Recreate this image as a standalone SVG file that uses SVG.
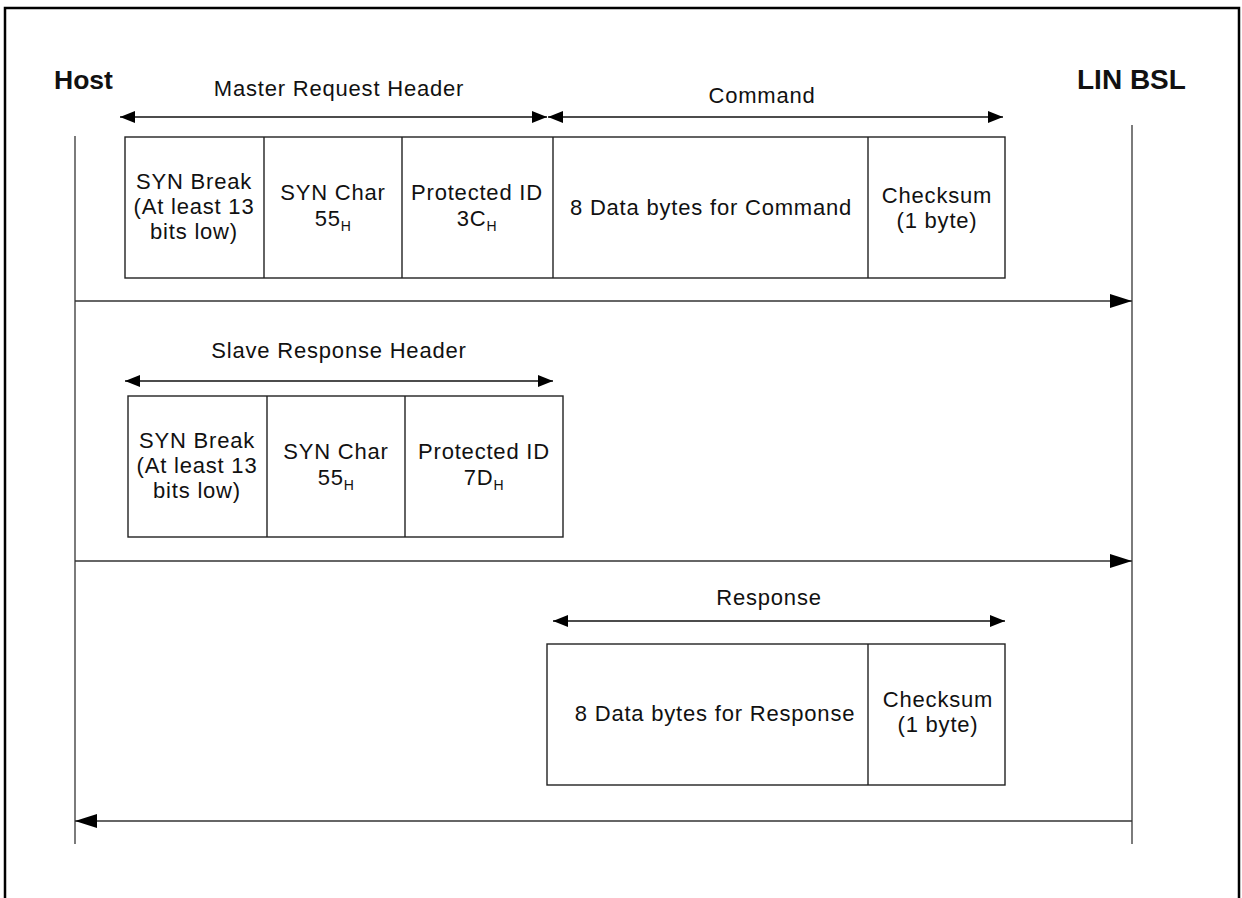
<svg xmlns="http://www.w3.org/2000/svg" width="1242" height="898" viewBox="0 0 1242 898">
<style>
  text { font-family: "Liberation Sans", Arial, sans-serif; fill: #111; }
  .lbl { font-size: 22px; letter-spacing: 0.8px; text-anchor: middle; }
  .sub { font-size: 14px; letter-spacing: 0.5px; }
  .actor { font-weight: bold; }
  .box { fill: #fff; stroke: #222; stroke-width: 1.4; }
  .div { stroke: #222; stroke-width: 1.4; }
  .life { stroke: #444; stroke-width: 1.4; }
  .dim { stroke: #111; stroke-width: 1.4; fill: none; marker-start: url(#dimhead); marker-end: url(#dimhead); }
  .flow { stroke: #333; stroke-width: 1.4; fill: none; marker-end: url(#flowhead); }
</style>
<defs>
  <marker id="dimhead" viewBox="0 0 15 12" refX="15" refY="6" markerWidth="15" markerHeight="12" markerUnits="userSpaceOnUse" orient="auto-start-reverse">
    <path d="M0,0 L15,6 L0,12 z" fill="#000"/>
  </marker>
  <marker id="flowhead" viewBox="0 0 22 14" refX="22" refY="7" markerWidth="22" markerHeight="14" markerUnits="userSpaceOnUse" orient="auto">
    <path d="M0,0 L22,7 L0,14 z" fill="#000"/>
  </marker>
</defs>
<rect x="0" y="0" width="1242" height="898" fill="#fff"/>
<path d="M5,898 V8 H1239 V898" fill="none" stroke="#000" stroke-width="2.5"/>

<g id="host">
  <text class="actor" x="54" y="89" font-size="26.5">Host</text>
  <line class="life" x1="75" y1="136" x2="75" y2="844"/>
</g>
<g id="linbsl">
  <text class="actor" x="1077" y="89" font-size="28">LIN BSL</text>
  <line class="life" x1="1132" y1="125" x2="1132" y2="844"/>
</g>

<g id="master-request">
  <text class="lbl" x="339" y="96">Master Request Header</text>
  <text class="lbl" x="762" y="103">Command</text>
  <rect class="box" x="125" y="137" width="880" height="141"/>
  <line class="div" x1="264" y1="137" x2="264" y2="278"/>
  <line class="div" x1="402" y1="137" x2="402" y2="278"/>
  <line class="div" x1="553" y1="137" x2="553" y2="278"/>
  <line class="div" x1="868" y1="137" x2="868" y2="278"/>
  <text class="lbl" x="194" y="189">SYN Break</text>
  <text class="lbl" x="194" y="214">(At least 13</text>
  <text class="lbl" x="194" y="239">bits low)</text>
  <text class="lbl" x="333" y="200">SYN Char</text>
  <text class="lbl" x="333" y="226">55<tspan class="sub" dy="5">H</tspan></text>
  <text class="lbl" x="477" y="200">Protected ID</text>
  <text class="lbl" x="477" y="226">3C<tspan class="sub" dy="5">H</tspan></text>
  <text class="lbl" x="711" y="215">8 Data bytes for Command</text>
  <text class="lbl" x="937" y="203">Checksum</text>
  <text class="lbl" x="937" y="228">(1 byte)</text>
</g>

<g id="slave-response">
  <text class="lbl" x="339" y="358">Slave Response Header</text>
  <rect class="box" x="128" y="396" width="435" height="141"/>
  <line class="div" x1="267" y1="396" x2="267" y2="537"/>
  <line class="div" x1="405" y1="396" x2="405" y2="537"/>
  <text class="lbl" x="197" y="448">SYN Break</text>
  <text class="lbl" x="197" y="473">(At least 13</text>
  <text class="lbl" x="197" y="498">bits low)</text>
  <text class="lbl" x="336" y="459">SYN Char</text>
  <text class="lbl" x="336" y="485">55<tspan class="sub" dy="5">H</tspan></text>
  <text class="lbl" x="484" y="459">Protected ID</text>
  <text class="lbl" x="484" y="485">7D<tspan class="sub" dy="5">H</tspan></text>
</g>

<g id="response">
  <text class="lbl" x="769" y="605">Response</text>
  <rect class="box" x="547" y="644" width="458" height="141"/>
  <line class="div" x1="868" y1="644" x2="868" y2="785"/>
  <text class="lbl" x="715" y="721">8 Data bytes for Response</text>
  <text class="lbl" x="938" y="707">Checksum</text>
  <text class="lbl" x="938" y="732">(1 byte)</text>
</g>

<g id="connectors">
  <line class="dim" x1="120" y1="117" x2="547" y2="117"/>
  <line class="dim" x1="548" y1="117" x2="1003" y2="117"/>
  <line class="dim" x1="125" y1="381" x2="553" y2="381"/>
  <line class="dim" x1="553" y1="621" x2="1005" y2="621"/>
  <line class="flow" x1="75" y1="301" x2="1132" y2="301"/>
  <line class="flow" x1="75" y1="561" x2="1132" y2="561"/>
  <line class="flow" x1="1132" y1="821" x2="75" y2="821"/>
</g>
</svg>
